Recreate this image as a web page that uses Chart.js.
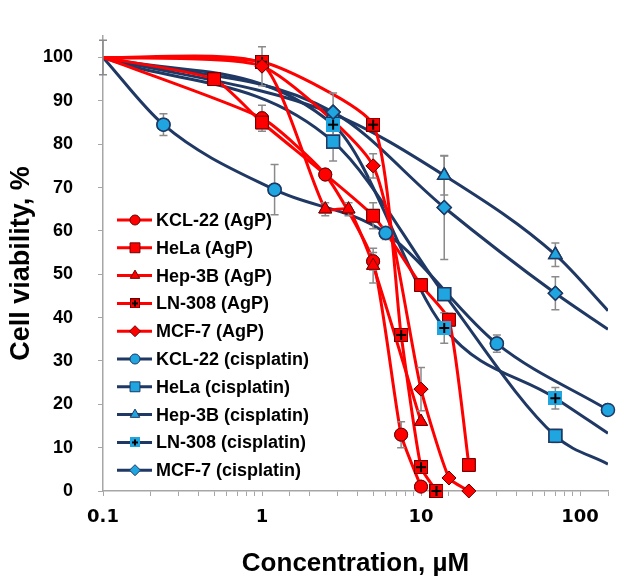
<!DOCTYPE html>
<html><head><meta charset="utf-8">
<script src="https://cdn.jsdelivr.net/npm/chart.js@4/dist/chart.umd.min.js"></script>
<style>html,body{margin:0;padding:0;background:#fff}#wrap{width:624px;height:579px;position:relative}</style>
</head><body><div id="wrap"><canvas id="c" width="624" height="579"></canvas></div>
<script>
// ---------- data ----------
const seriesNames = ['KCL-22 (AgP)', 'HeLa (AgP)', 'Hep-3B (AgP)', 'LN-308 (AgP)', 'MCF-7 (AgP)',
  'KCL-22 (cisplatin)', 'HeLa (cisplatin)', 'Hep-3B (cisplatin)', 'LN-308 (cisplatin)', 'MCF-7 (cisplatin)'];
const xTickLabels = [0.1, 1, 10, 100];
const yTickValues = [0, 10, 20, 30, 40, 50, 60, 70, 80, 90, 100];

const kclAgpConc = [0.1, 1, 2.5, 5, 7.5, 10];
const kclAgpViab = [100, 86, 73, 53, 13, 1];
const kclAgpErr  = [4, 3, 0, 2, 3, 0];

const helaAgpConc = [0.1, 0.5, 1, 5, 10, 15, 20];
const helaAgpViab = [100, 95, 85, 63.5, 47.5, 39.5, 6];
const helaAgpErr  = [0, 0, 0, 3, 1, 1.5, 0];

const hepAgpConc = [0.1, 1, 2.5, 3.5, 5, 10];
const hepAgpViab = [100, 98.5, 65, 65, 52, 16];
const hepAgpErr  = [0, 0, 1.5, 1.5, 4, 0];

const lnAgpConc = [0.1, 1, 5, 7.5, 10, 12.5];
const lnAgpViab = [100, 99, 84.5, 36, 5.5, 0];
const lnAgpErr  = [0, 0, 1, 0, 0, 0];

const mcfAgpConc = [0.1, 1, 5, 10, 15, 20];
const mcfAgpViab = [100, 98, 75, 23.5, 3, 0];
const mcfAgpErr  = [0, 4.5, 2.8, 5, 0, 0];

const kclCisConc = [0.1, 0.24, 1.2, 6, 30, 150];
const kclCisViab = [100, 84.5, 69.5, 59.5, 34, 18.7];
const kclCisErr  = [0, 2.5, 5.8, 1.5, 2, 0];

const helaCisConc = [0.1, 2.8, 14, 70];
const helaCisViab = [100, 80.6, 45.4, 12.7];
const helaCisErr  = [0, 4.5, 1, 1.5];

const hepCisConc = [0.1, 2.8, 14, 70];
const hepCisViab = [100, 87, 72.8, 54.5];
const hepCisErr  = [0, 0, 4.5, 2.7];

const lnCisConc = [0.1, 2.8, 14, 70];
const lnCisViab = [100, 84.5, 37.6, 21.4];
const lnCisErr  = [0, 3, 3.5, 2.5];

const mcfCisConc = [0.1, 2.8, 14, 70];
const mcfCisViab = [100, 87.4, 65.4, 45.6];
const mcfCisErr  = [0, 4.4, 12, 3.8];

// fitted-curve value at the right end of the axis (150 µM), no marker there
const cisCurveEndConc = 150;
const cisCurveEndViab = [null, 6.2, 41.6, 13.3, 37.3];

// ---------- styles ----------
const RED = '#ff0000', RED_EDGE = '#6e0000', NAVY = '#1f3864', CYAN = '#1fa6e0';
const FONT = '"Liberation Sans", Arial, sans-serif';

function plusSquare(fill, edge, size) {
  const c = document.createElement('canvas');
  c.width = c.height = size;
  const g = c.getContext('2d');
  g.fillStyle = fill; g.fillRect(0, 0, size, size);
  g.strokeStyle = edge; g.lineWidth = 1; g.strokeRect(0.5, 0.5, size - 1, size - 1);
  g.strokeStyle = '#000'; g.lineWidth = 2;
  const m = size / 2;
  g.beginPath(); g.moveTo(m, 2); g.lineTo(m, size - 2); g.moveTo(2, m); g.lineTo(size - 2, m); g.stroke();
  return c;
}
const plusRed = plusSquare(RED, RED_EDGE, 14), plusCyan = plusSquare(CYAN, CYAN, 14);
const plusRedSm = plusSquare(RED, RED_EDGE, 10), plusCyanSm = plusSquare(CYAN, CYAN, 10);

const markers = [
  {style: 'circle', r: 6.5}, {style: 'rect', r: 9}, {style: 'triangle', r: 7.5}, {style: 'plus'}, {style: 'rectRot', r: 7}
];
const legendMarkers = [
  {style: 'circle', r: 5}, {style: 'rect', r: 7}, {style: 'triangle', r: 5.5}, {style: 'plus'}, {style: 'rectRot', r: 5.5}
];

function mk(conc, viab, err, endViab) {
  const d = conc.map((x, i) => ({x: x, y: viab[i], e: err[i], m: x !== 0.1}));
  if (endViab != null) d.push({x: cisCurveEndConc, y: endViab, e: 0, m: false});
  return d;
}
const allData = [
  mk(kclAgpConc, kclAgpViab, kclAgpErr), mk(helaAgpConc, helaAgpViab, helaAgpErr),
  mk(hepAgpConc, hepAgpViab, hepAgpErr), mk(lnAgpConc, lnAgpViab, lnAgpErr),
  mk(mcfAgpConc, mcfAgpViab, mcfAgpErr),
  mk(kclCisConc, kclCisViab, kclCisErr, cisCurveEndViab[0]), mk(helaCisConc, helaCisViab, helaCisErr, cisCurveEndViab[1]),
  mk(hepCisConc, hepCisViab, hepCisErr, cisCurveEndViab[2]), mk(lnCisConc, lnCisViab, lnCisErr, cisCurveEndViab[3]),
  mk(mcfCisConc, mcfCisViab, mcfCisErr, cisCurveEndViab[4])
];

const datasets = allData.map((data, i) => {
  const agp = i < 5;
  const mk = markers[i % 5];
  const isPlus = mk.style === 'plus';
  return {
    label: seriesNames[i],
    data: data,
    borderColor: agp ? RED : NAVY,
    borderWidth: 3,
    cubicInterpolationMode: agp ? 'default' : 'monotone',
    tension: agp ? 0.18 : 0,
    pointStyle: isPlus ? (agp ? plusRed : plusCyan) : mk.style,
    pointRadius: (c) => (c.raw && c.raw.m) ? (isPlus ? 7 : mk.r) : 0,
    pointHoverRadius: (c) => (c.raw && c.raw.m) ? (isPlus ? 7 : mk.r) : 0,
    pointBackgroundColor: agp ? RED : CYAN,
    pointBorderColor: agp ? RED_EDGE : NAVY,
    pointBorderWidth: agp ? 1 : 1.5,
    fill: false
  };
});

// ---------- plugins ----------
const errorBarPlugin = {
  id: 'errorBars',
  afterDatasetsDraw(chart) {
    const ctx = chart.ctx, xs = chart.scales.x, ys = chart.scales.y;
    ctx.save();
    ctx.strokeStyle = '#8a8a8a'; ctx.lineWidth = 1.5;
    chart.data.datasets.forEach((ds) => {
      ds.data.forEach((p) => {
        if (!p.e) return;
        const px = xs.getPixelForValue(p.x);
        const y1 = ys.getPixelForValue(p.y + p.e), y2 = ys.getPixelForValue(p.y - p.e);
        ctx.beginPath();
        ctx.moveTo(px, y1); ctx.lineTo(px, y2);
        ctx.moveTo(px - 4, y1); ctx.lineTo(px + 4, y1);
        ctx.moveTo(px - 4, y2); ctx.lineTo(px + 4, y2);
        ctx.stroke();
      });
    });
    ctx.restore();
    const area = chart.chartArea;
    for (let i = 0; i < chart.data.datasets.length; i++) {
      const meta = chart.getDatasetMeta(i);
      meta.data.forEach((pt) => pt.draw(ctx, area));
    }
  }
};

const legendPlugin = {
  id: 'insideLegend',
  afterDraw(chart) {
    const ctx = chart.ctx;
    const y0 = 220, step = 27.8, lx0 = 117, lx1 = 152, mx = 135, tx = 156;
    ctx.save();
    chart.data.datasets.forEach((ds, i) => {
      const y = y0 + i * step;
      const agp = i < 5;
      ctx.strokeStyle = ds.borderColor; ctx.lineWidth = 3;
      ctx.beginPath(); ctx.moveTo(lx0, y); ctx.lineTo(lx1, y); ctx.stroke();
      const m = legendMarkers[i % 5];
      if (m.style === 'plus') {
        const img = agp ? plusRedSm : plusCyanSm;
        ctx.drawImage(img, mx - img.width / 2, y - img.height / 2);
      } else {
        ctx.fillStyle = agp ? RED : CYAN;
        ctx.strokeStyle = agp ? RED_EDGE : NAVY;
        ctx.lineWidth = 1;
        Chart.helpers.drawPoint(ctx, {pointStyle: m.style, radius: m.r, rotation: 0, borderWidth: 1}, mx, y);
      }
      ctx.fillStyle = '#000';
      ctx.font = 'bold 18px ' + FONT;
      ctx.textBaseline = 'middle';
      ctx.textAlign = 'left';
      ctx.fillText(ds.label, tx, y + 1);
    });
    ctx.restore();
  }
};

const isMajor = (v) => xTickLabels.some((t) => Math.abs(t - v) < 1e-9 * Math.max(1, t));

new Chart(document.getElementById('c'), {
  type: 'line',
  data: {datasets: datasets},
  options: {
    responsive: false,
    animation: false,
    events: [],
    layout: {padding: {top: 9, right: 16, left: 0, bottom: 0}},
    plugins: {legend: {display: false}, tooltip: {enabled: false}},
    scales: {
      x: {
        type: 'logarithmic', position: 'bottom', min: 0.1, max: 150,
        afterFit: (s) => { s.height = 88; },
        grid: {drawOnChartArea: false, drawTicks: true, tickLength: 5, color: '#a6a6a6', lineWidth: 1},
        border: {color: '#a6a6a6', width: 1.5},
        ticks: {
          autoSkip: false, maxRotation: 0, minRotation: 0, padding: 11, color: '#000',
          font: {family: '"DejaVu Sans", sans-serif', size: 18, weight: 'bold'},
          callback: (v) => isMajor(v) ? String(xTickLabels.find((t) => Math.abs(t - v) < 1e-9 * Math.max(1, t))) : ''
        },
        title: {display: true, text: 'Concentration, µM', color: '#000',
          font: {family: FONT, size: 26, weight: 'bold'}, padding: {top: 7, bottom: 0}}
      },
      y: {
        type: 'linear', position: 'left', min: 0, max: 105,
        afterFit: (s) => { s.width = 103; },
        afterBuildTicks: (s) => { s.ticks = yTickValues.map((v) => ({value: v})); },
        grid: {drawOnChartArea: false, drawTicks: true, tickLength: 5, color: '#a6a6a6', lineWidth: 1},
        border: {color: '#a6a6a6', width: 1.5},
        ticks: {padding: 25, color: '#000', font: {family: FONT, size: 18, weight: 'bold'}},
        title: {display: true, text: 'Cell viability, %', color: '#000',
          font: {family: FONT, size: 27, weight: 'bold'}, padding: {top: 5, bottom: 0}}
      }
    }
  },
  plugins: [errorBarPlugin, legendPlugin]
});
</script>
</body></html>
